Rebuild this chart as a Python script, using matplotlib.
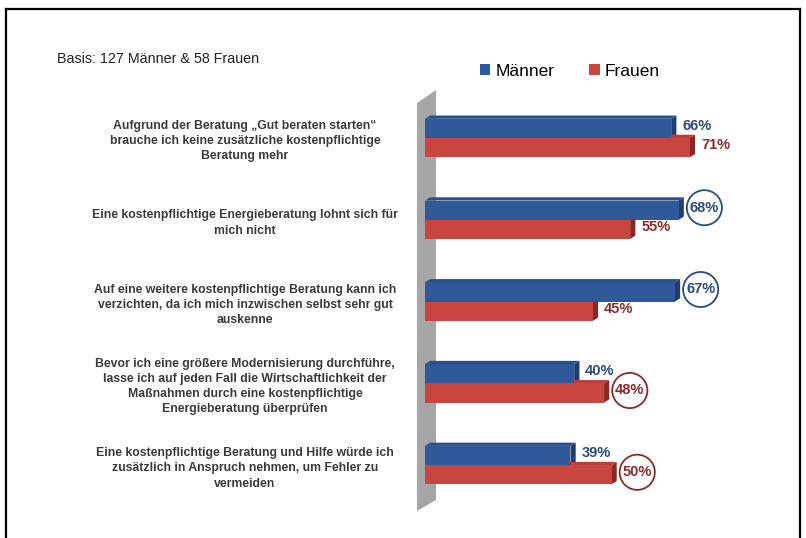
import matplotlib
matplotlib.use("Agg")
import matplotlib.pyplot as plt
from matplotlib.patches import Polygon, Patch
from matplotlib.lines import Line2D
from matplotlib.transforms import blended_transform_factory

plt.rcParams['font.family'] = ['Liberation Sans', 'DejaVu Sans']

# Aussagen (von oben nach unten)
aussagen = [
    "Aufgrund der Beratung \u201eGut beraten starten\u201c\nbrauche ich keine zus\u00e4tzliche kostenpflichtige\nBeratung mehr",
    "Eine kostenpflichtige Energieberatung lohnt sich f\u00fcr\nmich nicht",
    "Auf eine weitere kostenpflichtige Beratung kann ich\nverzichten, da ich mich inzwischen selbst sehr gut\nauskenne",
    "Bevor ich eine gr\u00f6\u00dfere Modernisierung durchf\u00fchre,\nlasse ich auf jeden Fall die Wirtschaftlichkeit der\nMa\u00dfnahmen durch eine kostenpflichtige\nEnergieberatung \u00fcberpr\u00fcfen",
    "Eine kostenpflichtige Beratung und Hilfe w\u00fcrde ich\nzus\u00e4tzlich in Anspruch nehmen, um Fehler zu\nvermeiden",
]
maenner = [66, 68, 67, 40, 39]
frauen = [71, 55, 45, 48, 50]
# welche Werte eingekreist sind
kreis_m = [False, True, True, False, False]
kreis_f = [False, False, False, True, True]

blau, blau_seite, blau_oben, blau_text = '#30599a', '#1f3d6e', '#2a508c', '#2b4a80'
rot, rot_seite, rot_oben, rot_text = '#c9453f', '#8c2824', '#b83e38', '#8a2a2a'

fig = plt.figure(figsize=(8.06, 5.38), dpi=100)
W, H = 806, 538
ax = fig.add_axes([425 / W, 1 - 515 / H, 373 / W, 425 / H])
ax.set_zorder(2)
ax.set_xlim(0, 100)
ax.set_ylim(4.61, -0.587)
ax.axis('off')

h = 0.235
dx, dy = 1.4, 0.04   # 3D-Tiefe


def balken(y, werte, front, seite, oben):
    ax.barh(y, werte, height=h, color=front, zorder=3)
    for yy, v in zip(y, werte):
        top = yy - h / 2
        bot = yy + h / 2
        ax.add_patch(Polygon([(v, top), (v + dx, top - dy), (v + dx, bot - dy), (v, bot)],
                             closed=True, fc=seite, ec='none', zorder=2))
        ax.add_patch(Polygon([(0, top), (dx, top - dy), (v + dx, top - dy), (v, top)],
                             closed=True, fc=oben, ec='none', zorder=2))


pos = list(range(len(aussagen)))
y_m = [p - h / 2 for p in pos]
y_f = [p + h / 2 for p in pos]
balken(y_m, maenner, blau, blau_seite, blau_oben)
balken(y_f, frauen, rot, rot_seite, rot_oben)


def beschriften(y, werte, kreise, farbe):
    for yy, v, k in zip(y, werte, kreise):
        bbox = None
        if k:
            bbox = dict(boxstyle='circle,pad=0.2', fc='white', ec=farbe, lw=1.3)
        ax.text(v + dx + 5.5, yy - 0.03, f"{v}%", ha='center', va='center', fontsize=10.5,
                fontweight='bold', color=farbe, bbox=bbox, zorder=5, clip_on=False)


beschriften(y_m, maenner, kreis_m, blau_text)
beschriften(y_f, frauen, kreis_f, rot_text)

# graue Wand links
fig.patches.append(Polygon([(417 / W, 1 - 103 / H), (436 / W, 1 - 90 / H),
                            (436 / W, 1 - 500 / H), (417 / W, 1 - 511 / H)],
                           closed=True, transform=fig.transFigure, fc='#a6a6a6', ec='none', zorder=1))

# Aussagen links
tr = blended_transform_factory(fig.transFigure, ax.transData)
for p, txt in zip(pos, aussagen):
    ax.text(245 / W, p + 0.04, txt, transform=tr, ha='center', va='center', multialignment='center',
            fontsize=8.8, fontweight='bold', color='#3a3a3a', linespacing=1.35, clip_on=False)

fig.text(57 / W, 1 - 59 / H, "Basis: 127 M\u00e4nner & 58 Frauen", fontsize=10.3, color='#222222',
         ha='left', va='center')

handles = [Patch(fc=blau, ec='none', label='M\u00e4nner'), Patch(fc=rot, ec='none', label='Frauen')]
fig.legend(handles=handles, loc='center left', bbox_to_anchor=(480 / W, 1 - 71 / H), ncol=2,
           frameon=False, fontsize=12.5, handlelength=0.6, handleheight=0.6, handletextpad=0.3,
           columnspacing=2.0, borderaxespad=0, borderpad=0)

# Rahmen
for xs, ys in [([6, 6], [540, 9]), ([6, 800], [9, 9]), ([800, 800], [9, 540])]:
    fig.add_artist(Line2D([x / W for x in xs], [1 - y / H for y in ys], color='black', lw=1.6,
                          transform=fig.transFigure))

fig.savefig('out.png', dpi=100)
